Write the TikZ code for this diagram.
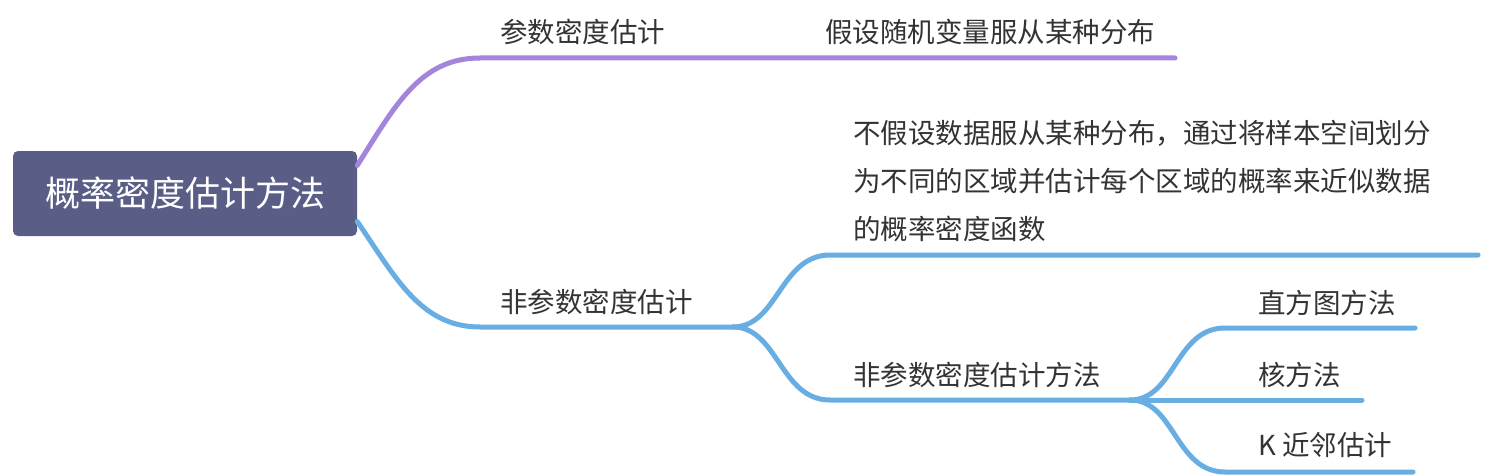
\documentclass[tikz,border=0pt]{standalone}
\usepackage{fontspec}
\setmainfont{Noto Sans CJK SC}
\usetikzlibrary{positioning}
\definecolor{rootfill}{HTML}{5A5E86}
\definecolor{purpleline}{HTML}{A386DB}
\definecolor{blueline}{HTML}{68AEE3}
\definecolor{textgray}{HTML}{333333}

\begin{document}
\begin{tikzpicture}[
x=1pt, y=-1pt,
rootbox/.style={fill=rootfill,
rounded corners=5pt,
text=white,
minimum width=344pt,
minimum height=85pt,
inner sep=0pt,
font=\fontsize{35}{40}\selectfont},
topic/.style={text=textgray,
anchor=west,
inner sep=0pt,
font=\fontsize{27.5}{48}\selectfont},
branch/.style={line width=5pt, line cap=round}
]
\useasboundingbox (0,0) rectangle (1488,476);

\node[rootbox] (root) at (185,193.5) {概率密度估计方法};

\node[topic] (param) at (500,32) {参数密度估计};
\node[topic] (assume) at (825,32) {假设随机变量服从某种分布};
\node[topic] (nonparam) at (500,302) {非参数密度估计};
\node[topic, anchor=north west, align=left] (desc) at (853,120)
{不假设数据服从某种分布，通过将样本空间划分\\为不同的区域并估计每个区域的概率来近似数据\\的概率密度函数};
\node[topic] (methods) at (853,375) {非参数密度估计方法};
\node[topic] (hist) at (1258,303) {直方图方法};
\node[topic] (kernel) at (1258,375) {核方法};
\node[topic] (knn) at (1258,445) {K 近邻估计};

% junctions and line ends
\coordinate (paramL) at (480,58);
\coordinate (paramR) at (1175,58);
\coordinate (nonparamL) at (480,327);
\coordinate (nonparamR) at (733,327);
\coordinate (descL) at (830,255);
\coordinate (descR) at (1478,255);
\coordinate (methodsL) at (830,400);
\coordinate (methodsR) at (1130,400);
\coordinate (histL) at (1225,328);
\coordinate (histR) at (1415,328);
\coordinate (kernelR) at (1362,400);
\coordinate (knnL) at (1225,472);
\coordinate (knnR) at (1413,472);

\draw[branch, purpleline] ([yshift=28pt]root.east) .. controls +(38,-60) and +(-60,0) .. (paramL) -- (paramR);
\draw[branch, blueline] ([yshift=-28pt]root.east) .. controls +(38,55) and +(-60,0) .. (nonparamL) -- (nonparamR);

\draw[branch, blueline] (nonparamR) .. controls +(45,0) and +(-50,0) .. (descL) -- (descR);
\draw[branch, blueline] (nonparamR) .. controls +(45,0) and +(-50,0) .. (methodsL) -- (methodsR);

\draw[branch, blueline] (methodsR) .. controls +(45,0) and +(-50,0) .. (histL) -- (histR);
\draw[branch, blueline] (methodsR) -- (kernelR);
\draw[branch, blueline] (methodsR) .. controls +(45,0) and +(-50,0) .. (knnL) -- (knnR);

\end{tikzpicture}
\end{document}
